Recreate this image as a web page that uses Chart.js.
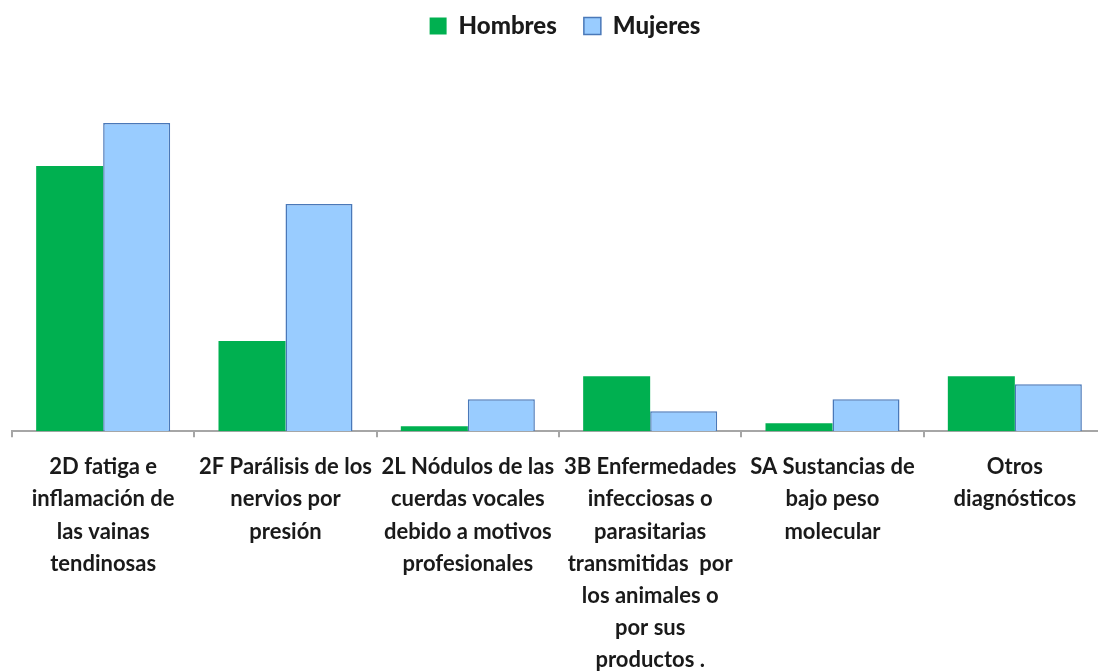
<!DOCTYPE html>
<html>
<head>
<meta charset="utf-8">
<script src="https://cdn.jsdelivr.net/npm/chart.js@4.4.1/dist/chart.umd.min.js"></script>
<style>
html,body{margin:0;padding:0;overflow:hidden;background:#fff;}
#wrap{position:absolute;left:0;top:0;width:1108px;height:690px;}
</style>
</head>
<body>
<div id="wrap"><canvas id="c" width="1108" height="690"></canvas></div>
<script>
const categories = [
  ["2D fatiga e","inflamación de","las vainas","tendinosas"],
  ["2F Parálisis de los","nervios por","presión"],
  ["2L Nódulos de las","cuerdas vocales","debido a motivos","profesionales"],
  ["3B Enfermedades","infecciosas o","parasitarias","transmitidas  por","los animales o","por sus","productos ."],
  ["SA Sustancias de","bajo peso","molecular"],
  ["Otros","diagnósticos"]
];
const hombres = [265, 90, 5, 55, 8, 55];
const mujeres = [308, 227, 32, 20, 32, 47];
const yMax = 360;

const legendMargin = {
  id: 'legendMargin',
  beforeInit(chart) {
    const orig = chart.legend.fit;
    chart.legend.fit = function () {
      orig.bind(chart.legend)();
      this.height += 23;
    };
  },
  afterLayout(chart) {
    chart.legend.left += 6;
    chart.legend.right += 6;
  }
};

new Chart(document.getElementById('c'), {
  type: 'bar',
  data: {
    labels: categories,
    datasets: [
      { label: 'Hombres', data: hombres, backgroundColor: '#00b050', borderColor: '#00b050', borderWidth: 0 },
      { label: 'Mujeres', data: mujeres, backgroundColor: '#99ccff', borderColor: '#4a78b8', borderWidth: 1.5 }
    ]
  },
  options: {
    responsive: false,
    animation: false,
    layout: { padding: { left: 12, right: 2, top: -13, bottom: 0 } },
    datasets: { bar: { categoryPercentage: 0.735, barPercentage: 1 } },
    plugins: {
      legend: {
        position: 'top',
        labels: {
          font: { family: 'Lato', size: 24, weight: '900' },
          color: '#1a1a1a',
          boxWidth: 17, boxHeight: 17, padding: 27
        }
      },
      tooltip: { enabled: false }
    },
    scales: {
      x: {
        offset: true,
        grid: { display: true, drawOnChartArea: false, offset: true, tickLength: 6, color: '#a6a6a6', lineWidth: 2 },
        border: { display: true, color: '#a6a6a6', width: 2 },
        ticks: {
          autoSkip: false, maxRotation: 0, minRotation: 0,
          padding: 14,
          color: '#1a1a1a',
          font: { family: 'Lato', size: 22, weight: 'bold', lineHeight: 1.46 }
        }
      },
      y: {
        display: false,
        min: 0, max: yMax
      }
    }
  },
  plugins: [legendMargin]
});
</script>
</body>
</html>
